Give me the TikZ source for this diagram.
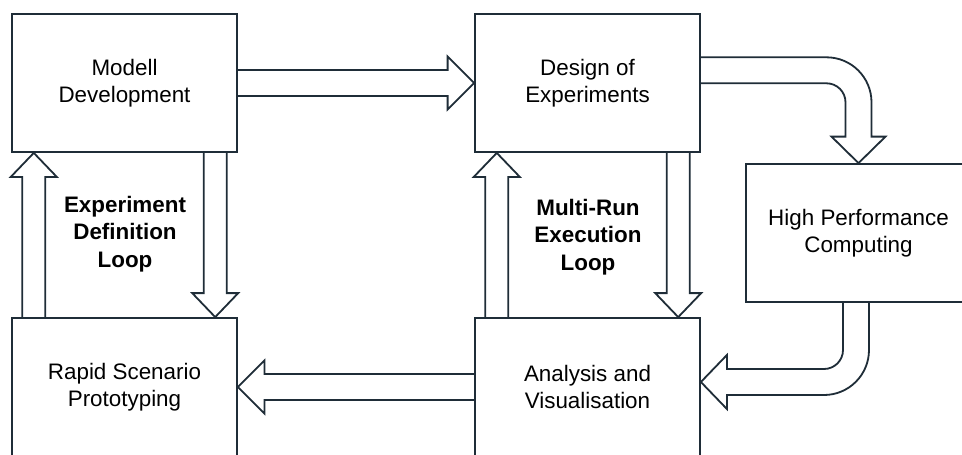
\documentclass[tikz,border=0pt]{standalone}
\usepackage{fontspec}
\setmainfont{Liberation Sans}
\usetikzlibrary{calc}
\definecolor{edge}{HTML}{1F2D38}
\tikzset{
  stage/.style={draw=edge, line width=1.8pt, minimum width=225pt, minimum height=138pt,
    inner sep=0pt, align=center, font=\fontsize{22.4pt}{26.5pt}\selectfont},
  looplabel/.style={align=center, font=\bfseries\fontsize{22.4pt}{27.5pt}\selectfont},
  hollow/.style={draw=edge, line width=1.8pt, line join=miter},
}
% hollow block arrow: from, to, shaft half width, head half width, head length
\newcommand\hollowarrow[5]{%
  \coordinate (ha-s) at (#1);
  \coordinate (ha-t) at (#2);
  \coordinate (ha-b) at ($(ha-t)!#5!(ha-s)$);
  \draw[hollow] ($(ha-s)!#3!90:(ha-t)$) -- ($(ha-b)!#3!90:(ha-t)$)
    -- ($(ha-b)!#4!90:(ha-t)$) -- (ha-t) -- ($(ha-b)!#4!-90:(ha-t)$)
    -- ($(ha-b)!#3!-90:(ha-t)$) -- ($(ha-s)!#3!-90:(ha-t)$);
}
\begin{document}
\begin{tikzpicture}[x=1pt,y=1pt]
\useasboundingbox[fill=white] (0,0) rectangle (962,-455);

% stages
\node[stage] (md)  at (124.5,-83)  {Modell\\Development};
\node[stage] (doe) at (587.5,-83)  {Design of\\Experiments};
\node[stage] (hpc) at (858.5,-233) {High Performance\\Computing};
\node[stage] (rsp) at (124.5,-387) {Rapid Scenario\\Prototyping};
\node[stage] (av)  at (587.5,-387) {Analysis and\\Visualisation};

% loop labels
\node[looplabel] (edl) at (125,-234) {Experiment\\Definition\\Loop};
\node[looplabel] (mel) at (588,-237) {Multi-Run\\Execution\\Loop};

% straight transitions
\hollowarrow{md.east}{doe.west}{13pt}{26.5pt}{26.5pt}
\hollowarrow{av.west}{rsp.east}{13pt}{26.5pt}{26.5pt}

\hollowarrow{$(rsp.north west)!0.1!(rsp.north east)$}{$(md.south west)!0.1!(md.south east)$}{11.5pt}{23pt}{24pt}
\hollowarrow{$(md.south west)!0.9!(md.south east)$}{$(rsp.north west)!0.9!(rsp.north east)$}{11.5pt}{23pt}{24pt}
\hollowarrow{$(av.north west)!0.1!(av.north east)$}{$(doe.south west)!0.1!(doe.south east)$}{11.5pt}{23pt}{24pt}
\hollowarrow{$(doe.south west)!0.9!(doe.south east)$}{$(av.north west)!0.9!(av.north east)$}{11.5pt}{23pt}{24pt}

% bent transition: design -> computing
\draw[hollow] ($(doe.east)+(0,25.7)$) -- ($(hpc.north |- doe.east)+(-32,25.7)$)
  arc[start angle=90, end angle=0, radius=45]
  -- ($(hpc.north)+(13,26.5)$) -- ($(hpc.north)+(27,26.5)$) -- (hpc.north)
  -- ($(hpc.north)+(-27,26.5)$) -- ($(hpc.north)+(-13,26.5)$)
  -- ($(hpc.north |- doe.east)+(-13,-19.3)$)
  arc[start angle=0, end angle=90, radius=19]
  -- ($(doe.east)+(0,-0.3)$);

% bent transition: computing -> analysis
\draw[hollow] ($(hpc.south)+(10.5,0)$) -- ($(hpc.south |- av.east)+(10.5,37)$)
  arc[start angle=0, end angle=-90, radius=45]
  -- ($(av.east)+(26,-8)$) -- ($(av.east)+(26,-22)$) -- ($(av.east)+(0,5)$)
  -- ($(av.east)+(26,32)$) -- ($(av.east)+(26,18)$)
  -- ($(hpc.south |- av.east)+(-34.5,18)$)
  arc[start angle=-90, end angle=0, radius=19]
  -- ($(hpc.south)+(-15.5,0)$);
\end{tikzpicture}
\end{document}
